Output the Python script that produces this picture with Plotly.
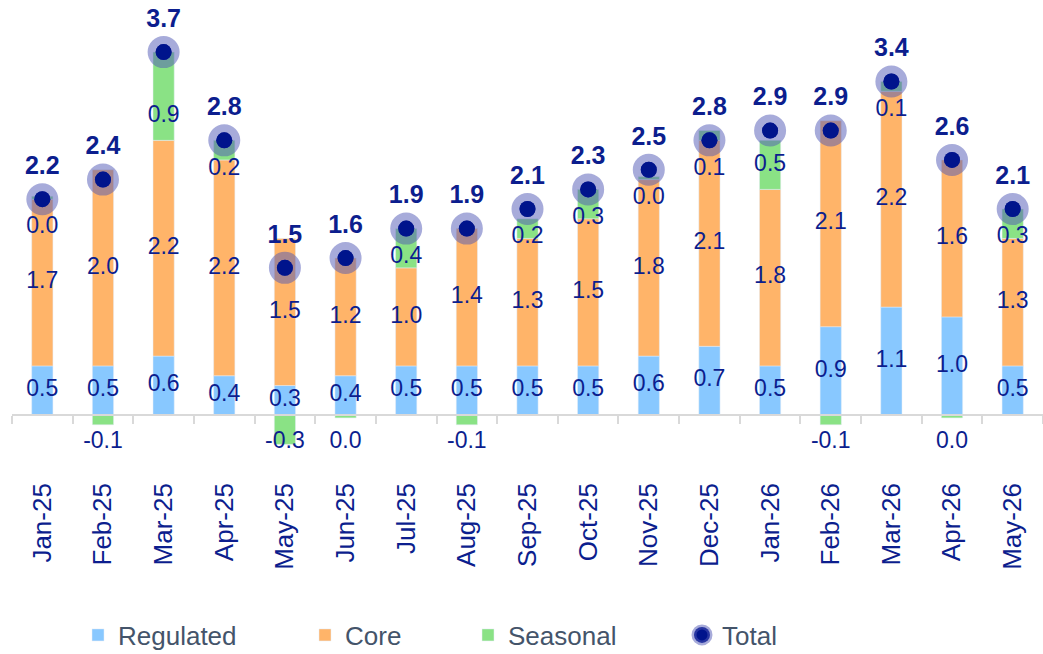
import plotly.graph_objects as go

# Monthly contributions (percentage points)
months = ["Jan-25", "Feb-25", "Mar-25", "Apr-25", "May-25", "Jun-25", "Jul-25", "Aug-25",
          "Sep-25", "Oct-25", "Nov-25", "Dec-25", "Jan-26", "Feb-26", "Mar-26", "Apr-26", "May-26"]
regulated = [0.5, 0.5, 0.6, 0.4, 0.3, 0.4, 0.5, 0.5, 0.5, 0.5, 0.6, 0.7, 0.5, 0.9, 1.1, 1.0, 0.5]
core = [1.7, 2.0, 2.2, 2.2, 1.5, 1.2, 1.0, 1.4, 1.3, 1.5, 1.8, 2.1, 1.8, 2.1, 2.2, 1.6, 1.3]
seasonal = [0.03, -0.1, 0.9, 0.2, -0.3, -0.03, 0.4, -0.1, 0.2, 0.3, 0.03, 0.1, 0.5, -0.1, 0.1, -0.03, 0.3]
total = [2.2, 2.4, 3.7, 2.8, 1.5, 1.6, 1.9, 1.9, 2.1, 2.3, 2.5, 2.8, 2.9, 2.9, 3.4, 2.6, 2.1]

Y_MIN, Y_MAX = -0.5, 4.18

C_REG = "#88C8FF"
C_CORE = "#FFB469"
C_SEAS = "#8AE285"
NAVY = "#00148C"
TXT = "#0C1E8E"
HALO = "rgba(80,88,182,0.5)"
LEG_TXT = "#44546A"
FONT = "Liberation Sans, Arial, sans-serif"


def fmt(v):
    return f"{round(v, 1) + 0.0:.1f}"


fig = go.Figure()

fig.add_bar(x=months, y=regulated, name="Regulated", marker_color=C_REG,
            width=0.35, legend="legend", hoverinfo="skip")
fig.add_bar(x=months, y=core, name="Core", marker_color=C_CORE,
            width=0.35, legend="legend2", hoverinfo="skip")
fig.add_bar(x=months, y=seasonal, name="Seasonal", marker_color=C_SEAS,
            width=0.35, legend="legend3", hoverinfo="skip")

# Total: translucent halo with a solid dot on top
fig.add_scatter(x=months, y=total, mode="markers", name="Total", legend="legend4",
                marker=dict(size=16, color=NAVY, line=dict(width=16, color=HALO)),
                hoverinfo="skip")
fig.add_scatter(x=months, y=total, mode="markers", showlegend=False,
                marker=dict(size=16, color=NAVY, line=dict(width=0)), hoverinfo="skip")

# Segment labels
reg_y = [r / 2 for r in regulated]
core_y = [r + c / 2 for r, c in zip(regulated, core)]
seas_y = []
for r, c, s, t in zip(regulated, core, seasonal, total):
    if s < 0:
        seas_y.append(-0.28)
    else:
        seas_y.append(min(t - 0.29, r + c + 0.25))

label_font = dict(family=FONT, size=23, color=TXT)
for ys, vals in ((reg_y, regulated), (core_y, core), (seas_y, seasonal)):
    fig.add_scatter(x=months, y=ys, mode="text", text=[fmt(v) for v in vals],
                    textposition="middle center", textfont=label_font,
                    showlegend=False, cliponaxis=False, hoverinfo="skip")

fig.add_scatter(x=months, y=[t + 0.32 for t in total], mode="text",
                text=[f"<b>{fmt(t)}</b>" for t in total], textposition="middle center",
                textfont=dict(family=FONT, size=25, color=TXT),
                showlegend=False, cliponaxis=False, hoverinfo="skip")

zero_pos = (0 - Y_MIN) / (Y_MAX - Y_MIN)

PLOT_L, PLOT_W = 12, 1031
PLOT_T, PLOT_H = 5, 459


def legend_box(px_left, py_center):
    return dict(x=(px_left - PLOT_L) / PLOT_W, y=(PLOT_T + PLOT_H - py_center) / PLOT_H,
                xanchor="left", yanchor="middle", orientation="h",
                font=dict(family=FONT, size=26, color=LEG_TXT),
                bgcolor="rgba(0,0,0,0)", borderwidth=0, itemwidth=30)


fig.update_layout(
    width=1043, height=654,
    margin=dict(l=PLOT_L, r=1043 - PLOT_L - PLOT_W, t=PLOT_T, b=654 - PLOT_T - PLOT_H,
                autoexpand=False),
    paper_bgcolor="white", plot_bgcolor="white",
    barmode="relative",
    showlegend=True,
    legend=legend_box(78, 635),
    legend2=legend_box(305, 635),
    legend3=legend_box(468, 635),
    legend4=legend_box(682, 635),
    xaxis=dict(
        type="category", categoryorder="array", categoryarray=months,
        range=[-0.5, len(months) - 0.5],
        anchor="free", position=zero_pos, automargin=False,
        showline=True, linecolor="#D9D9D9", linewidth=1.5,
        ticks="outside", tickson="boundaries", ticklen=8, tickwidth=1.5, tickcolor="#D9D9D9",
        tickangle=-90, tickfont=dict(family=FONT, size=26, color=TXT),
        ticklabelstandoff=57, showgrid=False, zeroline=False,
    ),
    yaxis=dict(range=[Y_MIN, Y_MAX], visible=False, showgrid=False, zeroline=False,
               automargin=False),
)

fig.write_html("out.html")
